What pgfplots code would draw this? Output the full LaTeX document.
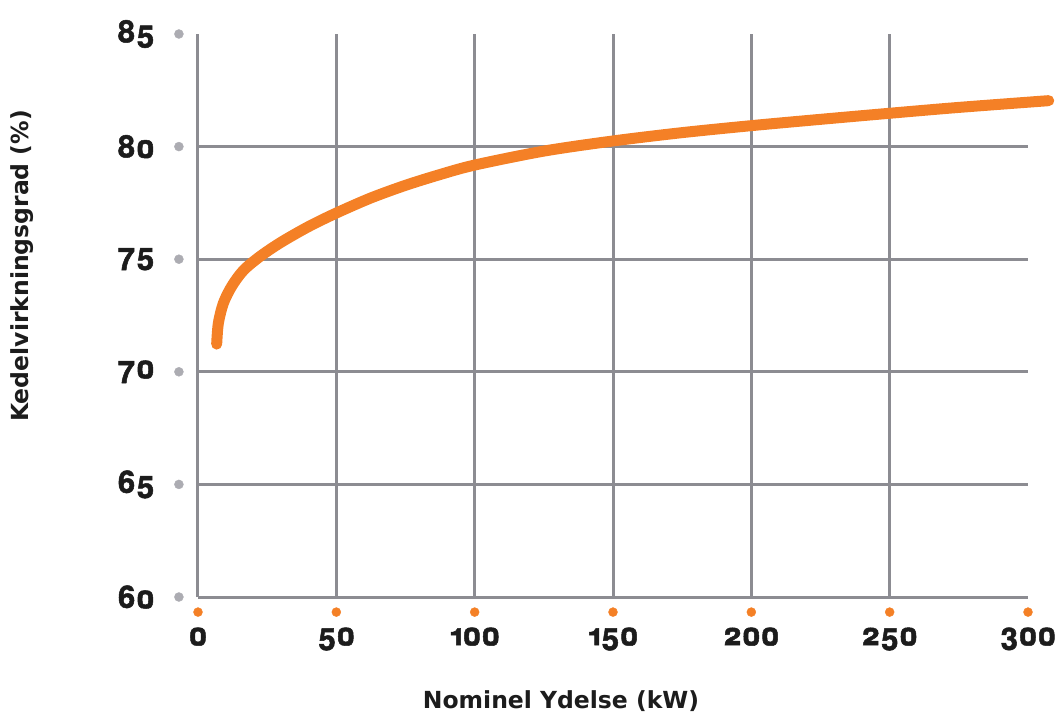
\documentclass[border=0pt]{standalone}
\usepackage{pgfplots}
\pgfplotsset{compat=1.18}
\usepackage{fontspec}
\setmainfont{DejaVu Sans}
\newfontfamily\tickfont[Numbers=OldStyle, BoldFeatures={FakeBold=1.6}]{TeX Gyre Heros}
\definecolor{curveorange}{RGB}{244,128,38}
\definecolor{gridgray}{RGB}{140,140,146}
\definecolor{dotgray}{RGB}{172,172,178}
\definecolor{txt}{RGB}{28,28,28}
\newcommand\tl[1]{\hbox{\tickfont\bfseries\fontsize{31}{31}\selectfont #1}}
\begin{document}
\begin{tikzpicture}
\path[use as bounding box] (-198pt,-120pt) rectangle (861pt,597pt);
\begin{axis}[
 scale only axis, width=830pt, height=563pt,
 xmin=0, xmax=300, ymin=60, ymax=85,
 clip=false,
 axis line style={draw=none},
 major tick length=0pt,
 xtick={0,50,100,150,200,250}, xticklabels={\tl{0},\tl{50},\tl{100},\tl{150},\tl{200},\tl{250}},
 extra x ticks={300}, extra x tick labels={\tl{300}},
 ytick={60,65,70,75,80}, yticklabels={\tl{60},\tl{65},\tl{70},\tl{75},\tl{80}},
 extra y ticks={85}, extra y tick labels={\tl{85}},
 extra tick style={grid=none},
 grid=major,
 grid style={gridgray, line width=3pt},
 ticklabel style={text=txt, inner sep=0pt},
 xticklabel style={anchor=base, yshift=-48pt},
 yticklabel style={anchor=east, xshift=-43pt},
]
\addplot[only marks, mark=*, mark size=4.5pt, mark options={draw=dotgray, fill=dotgray}] coordinates {
 (-6.9,60) (-6.9,65) (-6.9,70) (-6.9,75) (-6.9,80) (-6.9,85)};
\addplot[only marks, mark=*, mark size=4.5pt, mark options={draw=curveorange, fill=curveorange}] coordinates {
 (0,59.33) (50,59.33) (100,59.33) (150,59.33) (200,59.33) (250,59.33) (300,59.33)};
\addplot[curveorange, line width=11pt, line cap=round, smooth, tension=0.5] coordinates {
 (6.75,71.23) (7.35,72.15) (9.15,73.04) (12.2,73.8) (16.4,74.5) (22.4,75.12)
 (30,75.75) (40,76.45) (50,77.05) (62.5,77.72) (75,78.28) (87.5,78.76) (100,79.18)
 (125,79.8) (150,80.25) (175,80.62) (200,80.93) (225,81.21) (250,81.48) (275,81.74) (307.5,82.04)};
\end{axis}
\node[rotate=90, text=txt, font=\bfseries\fontsize{23.5}{28}\selectfont] at (-176pt,331pt) {Kedelvirkningsgrad (\%)};
\node[text=txt, font=\bfseries\fontsize{23.5}{28}\selectfont] at (363pt,-104pt) {Nominel Ydelse (kW)};
\end{tikzpicture}
\end{document}
